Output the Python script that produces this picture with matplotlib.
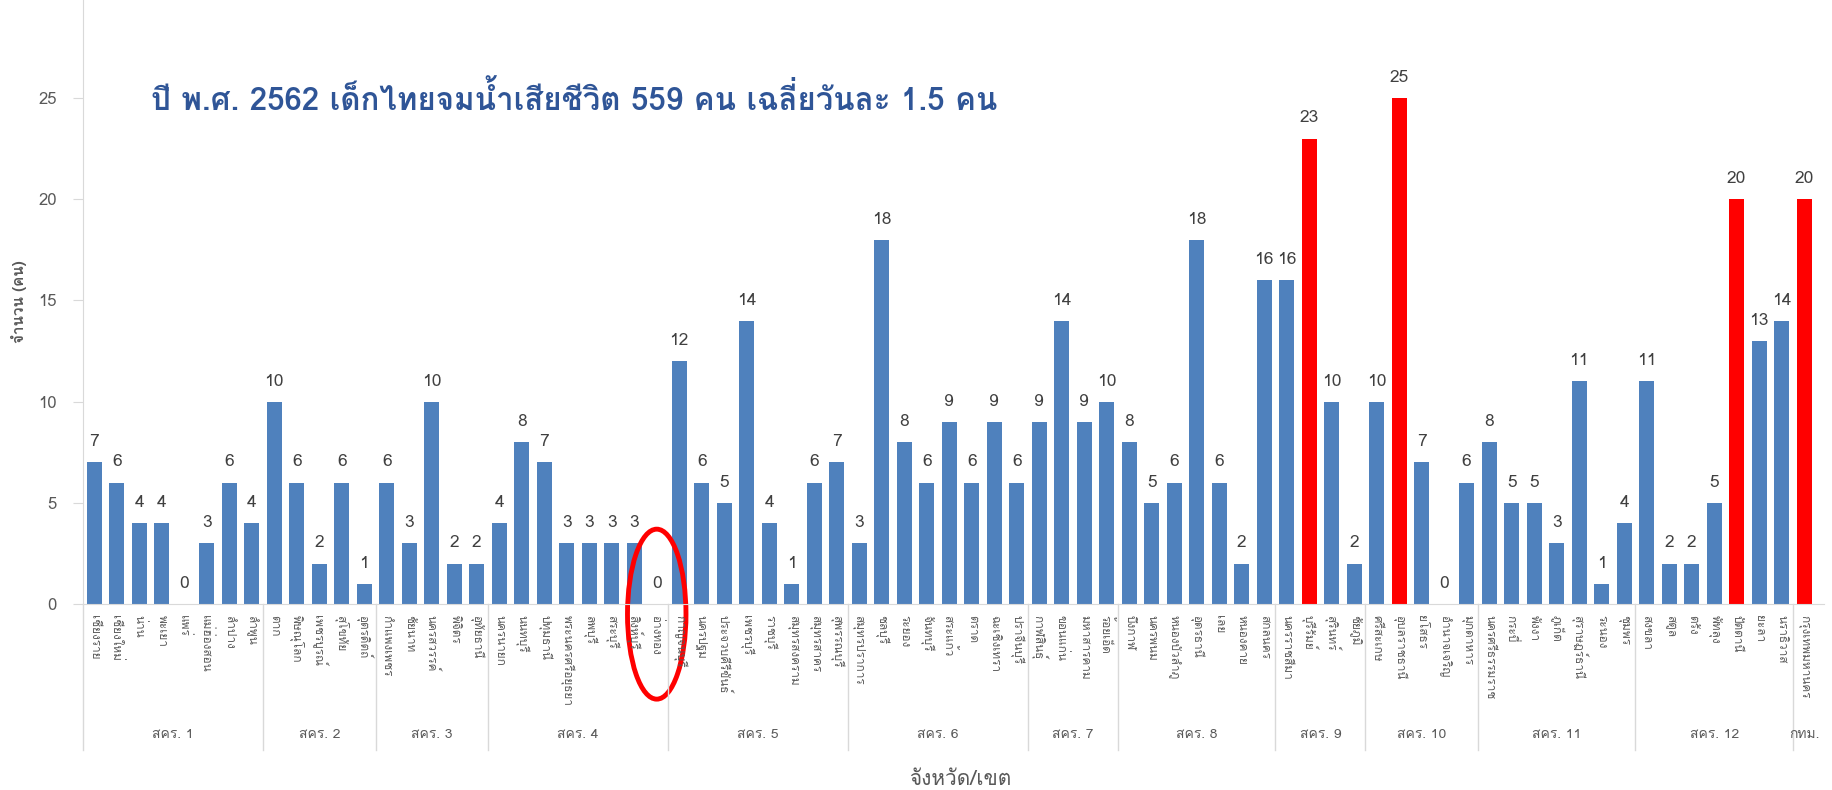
import matplotlib
matplotlib.use("Agg")
import matplotlib.pyplot as plt
from matplotlib import font_manager as fm
from matplotlib.ft2font import FT2Font
from matplotlib.patches import Ellipse

# data
regions = ["สคร. 1", "สคร. 2", "สคร. 3", "สคร. 4", "สคร. 5", "สคร. 6", "สคร. 7",
           "สคร. 8", "สคร. 9", "สคร. 10", "สคร. 11", "สคร. 12", "กทม."]
provinces = [
    ["เชียงราย", "เชียงใหม่", "น่าน", "พะเยา", "แพร่", "แม่ฮ่องสอน", "ลำปาง", "ลำพูน"],
    ["ตาก", "พิษณุโลก", "เพชรบูรณ์", "สุโขทัย", "อุตรดิตถ์"],
    ["กำแพงเพชร", "ชัยนาท", "นครสวรรค์", "พิจิตร", "อุทัยธานี"],
    ["นครนายก", "นนทบุรี", "ปทุมธานี", "พระนครศรีอยุธยา", "ลพบุรี", "สระบุรี", "สิงห์บุรี", "อ่างทอง"],
    ["กาญจนบุรี", "นครปฐม", "ประจวบคีรีขันธ์", "เพชรบุรี", "ราชบุรี", "สมุทรสงคราม", "สมุทรสาคร", "สุพรรณบุรี"],
    ["สมุทรปราการ", "ชลบุรี", "ระยอง", "จันทบุรี", "สระแก้ว", "ตราด", "ฉะเชิงเทรา", "ปราจีนบุรี"],
    ["กาฬสินธุ์", "ขอนแก่น", "มหาสารคาม", "ร้อยเอ็ด"],
    ["บึงกาฬ", "นครพนม", "หนองบัวลำภู", "อุดรธานี", "เลย", "หนองคาย", "สกลนคร"],
    ["นครราชสีมา", "บุรีรัมย์", "สุรินทร์", "ชัยภูมิ"],
    ["ศรีสะเกษ", "อุบลราชธานี", "ยโสธร", "อำนาจเจริญ", "มุกดาหาร"],
    ["นครศรีธรรมราช", "กระบี่", "พังงา", "ภูเก็ต", "สุราษฎร์ธานี", "ระนอง", "ชุมพร"],
    ["สงขลา", "สตูล", "ตรัง", "พัทลุง", "ปัตตานี", "ยะลา", "นราธิวาส"],
    ["กรุงเทพมหานคร"],
]
deaths = [
    [7, 6, 4, 4, 0, 3, 6, 4],
    [10, 6, 2, 6, 1],
    [6, 3, 10, 2, 2],
    [4, 8, 7, 3, 3, 3, 3, 0],
    [12, 6, 5, 14, 4, 1, 6, 7],
    [3, 18, 8, 6, 9, 6, 9, 6],
    [9, 14, 9, 10],
    [8, 5, 6, 18, 6, 2, 16],
    [16, 23, 10, 2],
    [10, 25, 7, 0, 6],
    [8, 5, 5, 3, 11, 1, 4],
    [11, 2, 2, 5, 20, 13, 14],
    [20],
]
highlight = ["บุรีรัมย์", "อุบลราชธานี", "ปัตตานี", "กรุงเทพมหานคร"]
circled = "อ่างทอง"
title = "ปี พ.ศ. 2562 เด็กไทยจมน้ำเสียชีวิต 559 คน เฉลี่ยวันละ 1.5 คน"


def thai_font():
    for f in fm.fontManager.ttflist:
        try:
            if 0x0E01 in FT2Font(f.fname).get_charmap():
                return f.name
        except Exception:
            pass
    return "DejaVu Sans"


FAMILY = [thai_font(), "DejaVu Sans"]
plt.rcParams["font.family"] = FAMILY

names = [p for g in provinces for p in g]
values = [v for g in deaths for v in g]
x = list(range(len(names)))
colors = ["#ff0000" if n in highlight else "#4f81bd" for n in names]
GRAY = "#595959"

fig = plt.figure(figsize=(18.33, 7.9), dpi=100)
ax = fig.add_axes([0.0453, 0.2354, 0.95, 0.7646])
ax.bar(x, values, width=0.66, color=colors)
for xi, v in zip(x, values):
    ax.text(xi, v + 0.6, str(v), ha="center", va="bottom", fontsize=12.5, color="#404040")

ax.set_xlim(-0.5, 76.9)
ax.set_ylim(0, 29.85)
ax.set_yticks(range(0, 26, 5))
ax.tick_params(axis="y", colors="#d9d9d9", labelcolor=GRAY, labelsize=12, length=7, pad=12)
ax.set_xticks(x)
ax.set_xticklabels(names, rotation=-90, fontsize=8.5, color=GRAY, va="top")
ax.tick_params(axis="x", length=0, pad=8)
for s in ["top", "right"]:
    ax.spines[s].set_visible(False)
ax.spines["left"].set_color("#d9d9d9")
ax.spines["bottom"].set_color("#d9d9d9")
ax.set_ylabel("จำนวน (คน)", fontsize=11, color=GRAY, fontweight="bold", labelpad=8)

# region groups under the province labels
trans = ax.get_xaxis_transform()
start = 0
for reg, g in zip(regions, provinces):
    end = start + len(g)
    ax.plot([start - 0.5] * 2, [0, -0.242], transform=trans, color="#d9d9d9", lw=1, clip_on=False)
    ax.text((start + end - 1) / 2, -0.217, reg, transform=trans, ha="center", va="center",
            fontsize=10, color=GRAY)
    start = end
ax.text(38.5, -0.291, "จังหวัด/เขต", transform=trans, ha="center", va="center",
        fontsize=15, color=GRAY)

ax.text(2.5, 25, title, ha="left", va="center", fontsize=22.5, fontweight="bold", color="#2f5597")

ci = names.index(circled)
ax.add_patch(Ellipse((ci, -0.5), 2.6, 8.4, fill=False, ec="#ff0000", lw=3.5, clip_on=False))

fig.savefig("out.png", dpi=100)
